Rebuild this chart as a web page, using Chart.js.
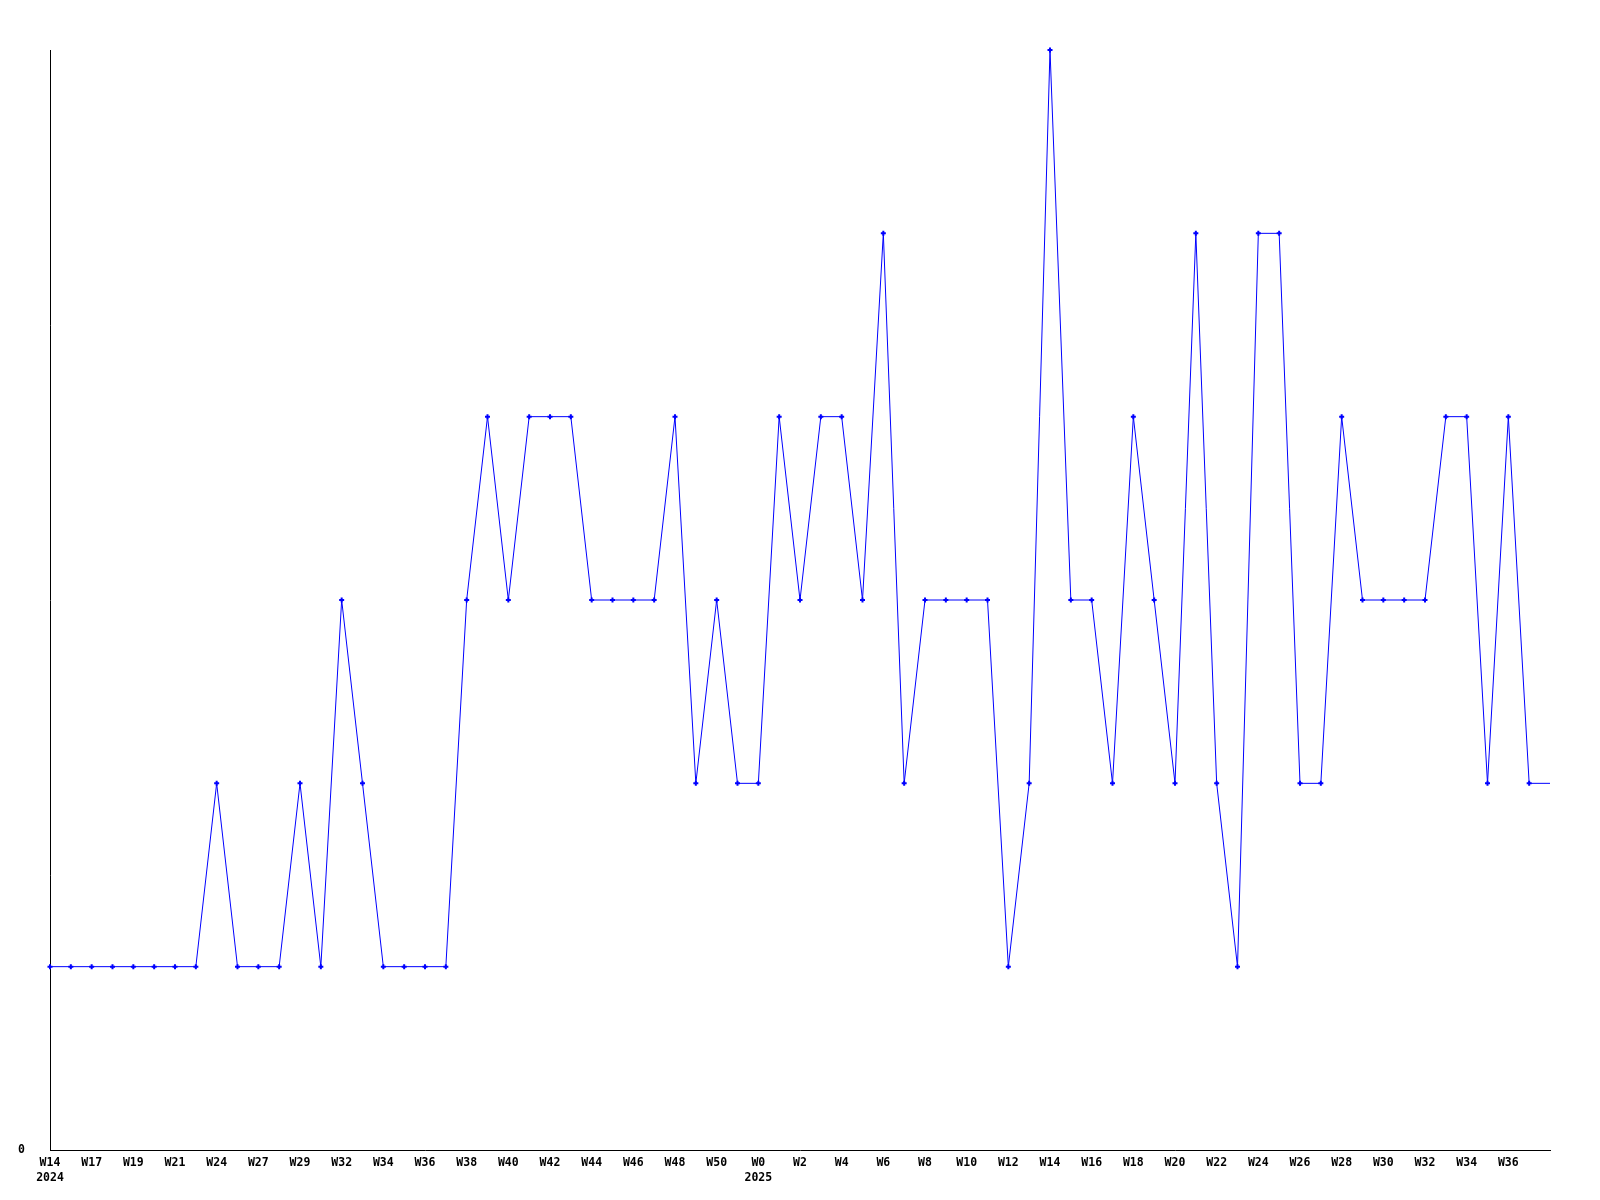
<!DOCTYPE html>
<html>
<head>
<meta charset="utf-8">
<script src="https://cdn.jsdelivr.net/npm/chart.js"></script>
<style>
  body { margin: 0; padding: 0; background: white; }
  #wrap { width: 1600px; height: 1200px; }
</style>
</head>
<body>
<div id="wrap"><canvas id="myChart"></canvas></div>
<script>
// weekly values, one per point (last one sits on the right edge, no marker)
const values = [
  1, 1, 1, 1, 1, 1, 1, 1, 2, 1, 1, 1, 2, 1, 3, 2, 1, 1, 1, 1,
  3, 4, 3, 4, 4, 4, 3, 3, 3, 3, 4, 2, 3, 2, 2, 4, 3, 4, 4, 3,
  5, 2, 3, 3, 3, 3, 1, 2, 6, 3, 3, 2, 4, 3, 2, 5, 2, 1, 5, 5,
  2, 2, 4, 3, 3, 3, 3, 4, 4, 2, 4, 2, 2
];

// x tick labels, one every second point
const tickLabels = [
  ['W14', '2024'], 'W17', 'W19', 'W21', 'W24', 'W27', 'W29', 'W32', 'W34', 'W36',
  'W38', 'W40', 'W42', 'W44', 'W46', 'W48', 'W50', ['W0', '2025'], 'W2', 'W4',
  'W6', 'W8', 'W10', 'W12', 'W14', 'W16', 'W18', 'W20', 'W22', 'W24',
  'W26', 'W28', 'W30', 'W32', 'W34', 'W36'
];
const tickStep = 2;

const yTicks = [0];
const yMax = 6;

const font = { family: "'DejaVu Sans Mono', monospace", size: 11.5, weight: 'bold', lineHeight: 1.35 };

const ctx = document.getElementById('myChart').getContext('2d');
new Chart(ctx, {
  type: 'line',
  data: {
    datasets: [{
      data: values.map((v, i) => ({ x: i, y: v })),
      borderColor: '#0000ff',
      backgroundColor: '#0000ff',
      borderWidth: 1,
      tension: 0,
      pointStyle: 'cross',
      pointRadius: (c) => (c.dataIndex === values.length - 1 ? 0 : 2.5),
      pointBorderWidth: 2,
      pointBorderColor: '#0000ff',
      clip: false
    }]
  },
  options: {
    responsive: true,
    maintainAspectRatio: false,
    animation: false,
    devicePixelRatio: 1,
    layout: { padding: { top: 50, right: 50, left: 0, bottom: 0 } },
    plugins: { legend: { display: false }, tooltip: { enabled: false } },
    scales: {
      x: {
        type: 'linear',
        min: 0,
        max: values.length - 1,
        grid: { display: false, drawTicks: false },
        border: { display: true, color: '#000', width: 1 },
        afterBuildTicks: (axis) => {
          axis.ticks = tickLabels.map((_, i) => ({ value: i * tickStep }));
        },
        afterFit: (axis) => { axis.height = 50; },
        ticks: {
          autoSkip: false,
          maxRotation: 0,
          padding: 5,
          color: '#000',
          font: font,
          callback: (v, i) => tickLabels[i]
        }
      },
      y: {
        min: 0,
        max: yMax,
        grid: { display: false, drawTicks: false },
        border: { display: true, color: '#000', width: 1 },
        afterBuildTicks: (axis) => {
          axis.ticks = yTicks.map((v) => ({ value: v }));
        },
        afterFit: (axis) => { axis.width = 50; },
        ticks: {
          padding: 25,
          color: '#000',
          font: font
        }
      }
    }
  }
});
</script>
</body>
</html>
